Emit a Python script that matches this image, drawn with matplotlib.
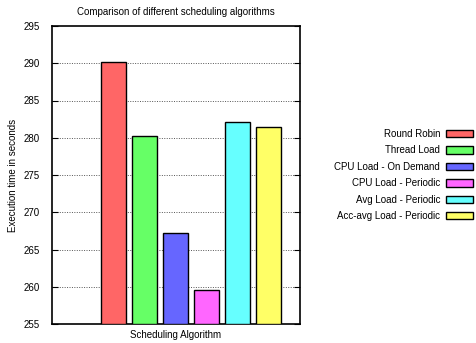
import matplotlib
matplotlib.use("Agg")
import matplotlib.pyplot as plt
from matplotlib.patches import Patch

plt.rcParams['font.family'] = ['Liberation Sans', 'DejaVu Sans']

algorithms = ["Round Robin", "Thread Load", "CPU Load - On Demand",
              "CPU Load - Periodic", "Avg Load - Periodic", "Acc-avg Load - Periodic"]
exec_times = [290.2, 280.3, 267.2, 259.5, 282.1, 281.4]
colors = ["#ff6666", "#66ff66", "#6666ff", "#ff66ff", "#66ffff", "#ffff66"]
yticks = [255, 260, 265, 270, 275, 280, 285, 290, 295]

fig = plt.figure(figsize=(4.77, 3.43), dpi=100)
ax = fig.add_axes([52/477, 1-324/343, 248/477, 298/343])

positions = list(range(len(algorithms)))
for p, v, c, lab in zip(positions, exec_times, colors, algorithms):
    ax.bar(p, v - 255, bottom=255, width=0.8, color=c, edgecolor="black",
           linewidth=1.0, label=lab, zorder=3)

ax.set_xlim(-1.98, 6.02)
ax.set_ylim(255, 295)
ax.set_yticks(yticks)
ax.set_xticks([])
ax.tick_params(axis='y', direction='in', length=4, width=0.8, right=True,
               labelsize=7, pad=9)
for y in yticks[1:-1]:
    ax.axhline(y, color="#555555", linestyle=(0, (1, 1.5)), linewidth=0.7, zorder=1)
for s in ax.spines.values():
    s.set_linewidth(1.2)

ax.set_title("Comparison of different scheduling algorithms", fontsize=7, pad=8)
ax.set_xlabel("Scheduling Algorithm", fontsize=7, labelpad=4)
ax.set_ylabel("Execution time in seconds", fontsize=7, labelpad=4)

handles = [Patch(facecolor=c, edgecolor="black", linewidth=1.0) for c in colors]
leg = fig.legend(handles, algorithms, loc="upper right",
                 bbox_to_anchor=(473/477, 1-129/343), bbox_transform=fig.transFigure,
                 frameon=False, markerfirst=False, fontsize=7,
                 handlelength=2.78, handleheight=0.8, labelspacing=0.66,
                 handletextpad=0.6, borderaxespad=0.0, borderpad=0.0)

fig.savefig("out.png", dpi=100)
